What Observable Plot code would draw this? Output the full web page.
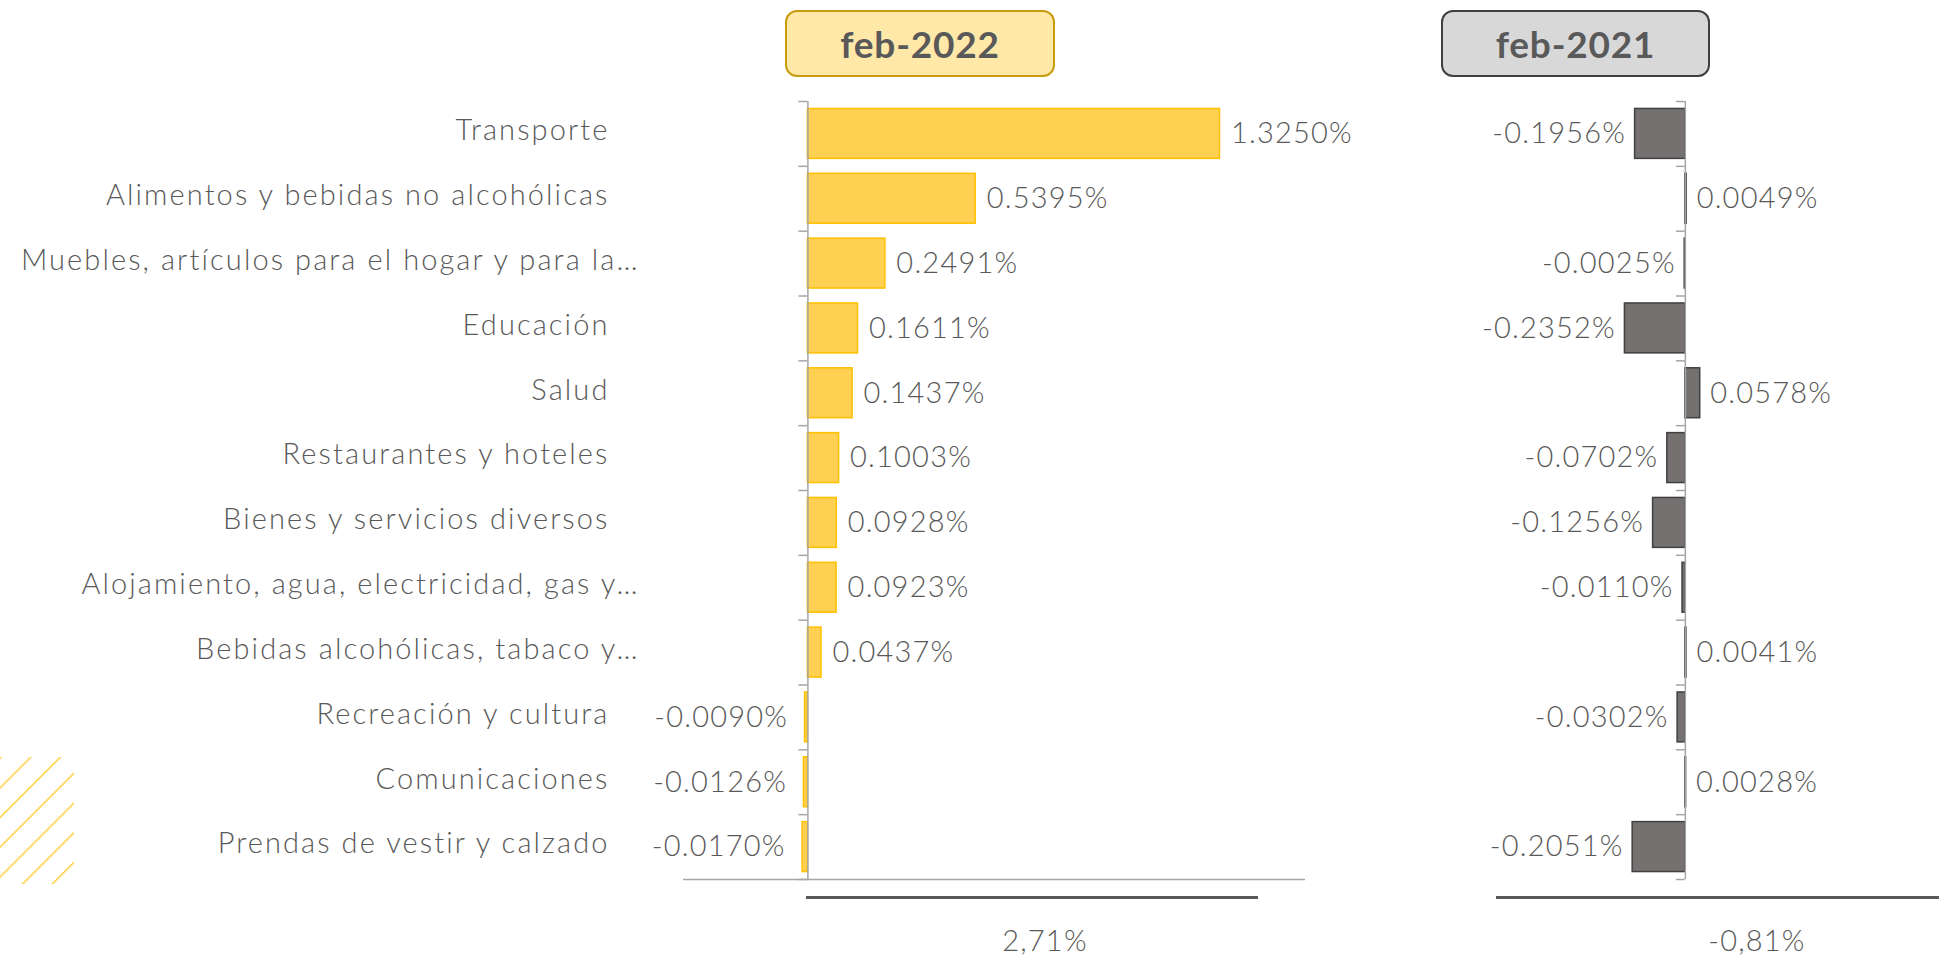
<!DOCTYPE html>
<html>
<head>
<meta charset="utf-8">
<script src="https://cdn.jsdelivr.net/npm/d3@7"></script>
<script src="https://cdn.jsdelivr.net/npm/@observablehq/plot@0.6"></script>
<style>
  html, body { margin: 0; padding: 0; background: #fff; }
  body { width: 1939px; height: 958px; position: relative; overflow: hidden; font-family: Lato, "Noto Sans", sans-serif; color: #595959; }
  .abs { position: absolute; }
  .hdr { position: absolute; top: 10px; height: 67px; box-sizing: border-box; border-radius: 12px; display: flex; align-items: center; justify-content: center; font-weight: 700; font-size: 37px; letter-spacing: 0.8px; color: #595959; }
  .tot { position: absolute; width: 200px; text-align: center; font-size: 29px; font-weight: 300; letter-spacing: 1.2px; line-height: 40px; top: 920px; }
  .sep { position: absolute; top: 896px; height: 3px; background: #595959; }
  svg.plot-svg { max-width: none !important; }
</style>
</head>
<body>
<div id="left" class="abs" style="left:0;top:0"></div>
<div id="right" class="abs" style="left:1320px;top:0"></div>
<div id="hdr1" class="hdr" style="left:785px;width:270px;background:#FFE8A8;border:2.5px solid #C99C10;"></div>
<div id="hdr2" class="hdr" style="left:1441px;width:269px;background:#D9D8D9;border:2.5px solid #404040;"></div>
<div class="sep" style="left:806px;width:452px"></div>
<div class="sep" style="left:1496px;width:443px"></div>
<div id="tot1" class="tot" style="left:945px"></div>
<div id="tot2" class="tot" style="left:1657px"></div>
<svg class="abs" style="left:0;top:757px" width="74" height="127">
  <defs>
    <pattern id="hatch" width="21" height="21" patternUnits="userSpaceOnUse" patternTransform="rotate(45)">
      <line x1="0" y1="0" x2="0" y2="21" stroke="#FFD147" stroke-width="3.2"/>
    </pattern>
  </defs>
  <rect x="0" y="0" width="74" height="127" fill="url(#hatch)"/>
</svg>
<script>
const categories = [
  "Transporte",
  "Alimentos y bebidas no alcohólicas",
  "Muebles, artículos para el hogar y para la…",
  "Educación",
  "Salud",
  "Restaurantes y hoteles",
  "Bienes y servicios diversos",
  "Alojamiento, agua, electricidad, gas y…",
  "Bebidas alcohólicas, tabaco y…",
  "Recreación y cultura",
  "Comunicaciones",
  "Prendas de vestir y calzado"
];
const feb2022 = [1.3250, 0.5395, 0.2491, 0.1611, 0.1437, 0.1003, 0.0928, 0.0923, 0.0437, -0.0090, -0.0126, -0.0170];
const feb2021 = [-0.1956, 0.0049, -0.0025, -0.2352, 0.0578, -0.0702, -0.1256, -0.0110, 0.0041, -0.0302, 0.0028, -0.2051];
const periods = ["feb-2022", "feb-2021"];
const totals = ["2,71%", "-0,81%"];

document.getElementById("hdr1").textContent = periods[0];
document.getElementById("hdr2").textContent = periods[1];
document.getElementById("tot1").textContent = totals[0];
document.getElementById("tot2").textContent = totals[1];

const rows = categories.map((c, i) => ({c, i, a: feb2022[i], b: feb2021[i]}));
const fmt = v => v.toFixed(4) + "%";
const n = categories.length;
const truncated = d => d.c.endsWith("…");
const textStyle = {fontFamily: "Lato, 'Noto Sans', sans-serif", fontSize: "29px", fontWeight: 300, color: "#595959", background: "transparent", overflow: "visible", maxWidth: "none"};

const left = Plot.plot({
  width: 1320, height: 958,
  marginTop: 101, marginBottom: 79, marginLeft: 683, marginRight: 15,
  x: {domain: [-0.4, 1.6], axis: null},
  y: {domain: [n, 0], axis: null},
  style: textStyle,
  marks: [
    Plot.rectX(rows, {x1: 0, x2: "a", y1: d => d.i + 0.115, y2: d => d.i + 0.885, fill: "#FFD052", stroke: "#FFC000", strokeWidth: 1.5}),
    Plot.ruleX([0], {y1: 0, y2: n, stroke: "#A6A6A6", strokeWidth: 1.5}),
    Plot.ruleY(d3.range(n + 1), {x1: 0, x2: 0, insetLeft: -9, stroke: "#A6A6A6", strokeWidth: 1.5}),
    Plot.ruleY([n], {stroke: "#A6A6A6", strokeWidth: 1.5}),
    Plot.text(rows.filter(d => d.a >= 0), {x: "a", y: d => d.i + 0.5, text: d => fmt(d.a), textAnchor: "start", dx: 11, fill: "#595959"}),
    Plot.text(rows.filter(d => d.a < 0), {x: "a", y: d => d.i + 0.5, text: d => fmt(d.a), textAnchor: "end", dx: -17, fill: "#595959"}),
    Plot.text(rows.filter(d => !truncated(d)), {y: d => d.i + 0.5, frameAnchor: "left", text: "c", textAnchor: "end", dx: -74, dy: -3, fill: "#595959"}),
    Plot.text(rows.filter(truncated), {y: d => d.i + 0.5, frameAnchor: "left", text: "c", textAnchor: "end", dx: -44, dy: -3, fill: "#595959"})
  ]
});
left.classList.add("plot-svg");
{
  const groups = d3.select(left).selectAll('g[aria-label="text"]').nodes();
  groups.forEach((g, k) => g.setAttribute("letter-spacing", k >= 2 ? "2.1px" : "1.2px"));
}
document.getElementById("left").appendChild(left);

const right = Plot.plot({
  width: 619, height: 958,
  marginTop: 101, marginBottom: 79, marginLeft: 176, marginRight: 0,
  x: {domain: [-0.735, 0.989], axis: null},
  y: {domain: [n, 0], axis: null},
  style: textStyle,
  marks: [
    Plot.rectX(rows, {x1: 0, x2: "b", y1: d => d.i + 0.115, y2: d => d.i + 0.885, fill: "#767171", stroke: "#404040", strokeWidth: 1.5}),
    Plot.ruleX([0], {y1: 0, y2: n, stroke: "#A6A6A6", strokeWidth: 1.5}),
    Plot.ruleY(d3.range(n + 1), {x1: 0, x2: 0, insetLeft: -9, stroke: "#A6A6A6", strokeWidth: 1.5}),
    Plot.text(rows.filter(d => d.b >= 0), {x: "b", y: d => d.i + 0.5, text: d => fmt(d.b), textAnchor: "start", dx: 10, fill: "#595959"}),
    Plot.text(rows.filter(d => d.b < 0), {x: "b", y: d => d.i + 0.5, text: d => fmt(d.b), textAnchor: "end", dx: -9, fill: "#595959"})
  ]
});
right.classList.add("plot-svg");
d3.select(right).selectAll('g[aria-label="text"]').attr("letter-spacing", "1.2px");
document.getElementById("right").appendChild(right);
</script>
</body>
</html>
